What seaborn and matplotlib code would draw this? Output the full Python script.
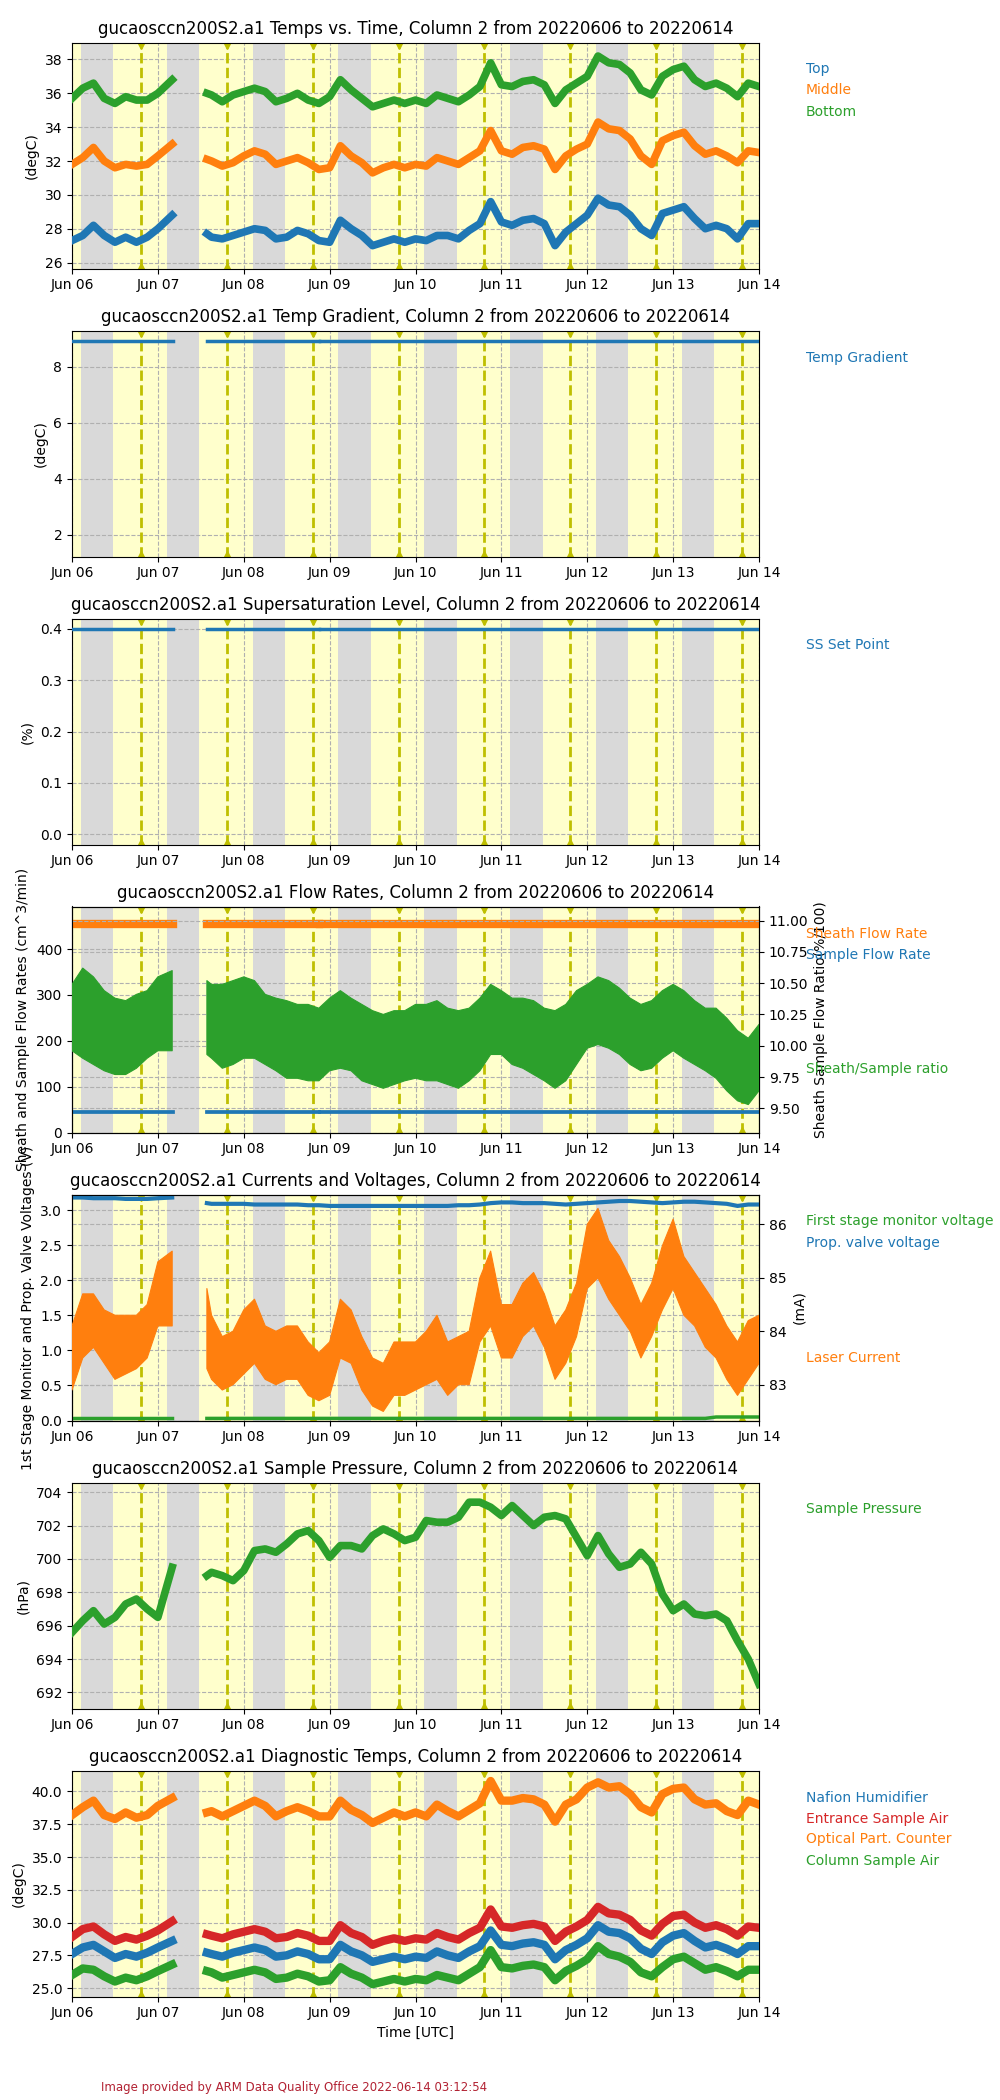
import numpy as np
import pandas as pd
import matplotlib
matplotlib.use("Agg")
import matplotlib.pyplot as plt
import matplotlib.dates as mdates
import seaborn as sns

nan = np.nan

# 3-hourly samples (hours after 2022-06-06 00:00 UTC), data gap on Jun 07
hours = list(range(0, 27, 3)) + [28, 30, 33, 37.7] + list(range(39, 193, 3))

# Temps vs. Time
temp_top = [
    27.3, 27.6, 28.2, 27.6, 27.2, 27.5, 27.2, 27.5,
    28.0, 28.8, nan, nan, 27.7, 27.5, 27.4, 27.6,
    27.8, 28.0, 27.9, 27.4, 27.5, 27.9, 27.7, 27.3,
    27.2, 28.5, 28.0, 27.6, 27.0, 27.2, 27.4, 27.2,
    27.4, 27.3, 27.6, 27.6, 27.4, 27.9, 28.3, 29.6,
    28.4, 28.2, 28.5, 28.6, 28.3, 27.0, 27.8, 28.3,
    28.8, 29.8, 29.4, 29.3, 28.8, 28.0, 27.6, 28.9,
    29.1, 29.3, 28.6, 28.0, 28.2, 28.0, 27.4, 28.3,
    28.3,
]
temp_middle = [
    31.8, 32.2, 32.8, 32.0, 31.6, 31.8, 31.7, 31.8,
    32.3, 33.0, nan, nan, 32.1, 32.0, 31.7, 31.9,
    32.3, 32.6, 32.4, 31.8, 32.0, 32.2, 31.9, 31.5,
    31.6, 32.9, 32.3, 31.9, 31.3, 31.6, 31.8, 31.6,
    31.8, 31.7, 32.2, 32.0, 31.8, 32.2, 32.6, 33.8,
    32.6, 32.4, 32.8, 32.9, 32.7, 31.5, 32.3, 32.7,
    33.0, 34.3, 33.9, 33.8, 33.3, 32.3, 31.8, 33.2,
    33.5, 33.7, 32.9, 32.4, 32.6, 32.3, 31.9, 32.6,
    32.5,
]
temp_bottom = [
    35.7, 36.3, 36.6, 35.7, 35.4, 35.8, 35.6, 35.6,
    36.0, 36.8, nan, nan, 36.0, 35.9, 35.5, 35.9,
    36.1, 36.3, 36.1, 35.5, 35.7, 36.0, 35.6, 35.4,
    35.8, 36.8, 36.2, 35.7, 35.2, 35.4, 35.6, 35.4,
    35.6, 35.4, 35.9, 35.7, 35.5, 35.9, 36.4, 37.8,
    36.5, 36.4, 36.7, 36.8, 36.5, 35.4, 36.2, 36.6,
    37.0, 38.2, 37.8, 37.7, 37.2, 36.2, 35.9, 37.0,
    37.4, 37.6, 36.8, 36.4, 36.6, 36.3, 35.8, 36.6,
    36.4,
]

# Flow rates: sheath/sample ratio band (right axis)
ratio_upper = [
    10.49, 10.62, 10.55, 10.44, 10.38, 10.36, 10.41, 10.44,
    10.55, 10.60, nan, nan, 10.52, 10.49, 10.49, 10.52,
    10.55, 10.52, 10.41, 10.38, 10.36, 10.33, 10.33, 10.30,
    10.38, 10.44, 10.38, 10.33, 10.28, 10.25, 10.28, 10.28,
    10.33, 10.33, 10.36, 10.30, 10.28, 10.30, 10.38, 10.49,
    10.44, 10.38, 10.38, 10.36, 10.30, 10.28, 10.33, 10.44,
    10.49, 10.55, 10.52, 10.46, 10.38, 10.33, 10.36, 10.44,
    10.49, 10.44, 10.36, 10.30, 10.30, 10.22, 10.12, 10.06,
    10.17,
]
ratio_lower = [
    9.96, 9.90, 9.85, 9.80, 9.77, 9.77, 9.82, 9.90,
    9.96, 9.96, nan, nan, 9.93, 9.90, 9.82, 9.85,
    9.90, 9.90, 9.85, 9.80, 9.74, 9.74, 9.72, 9.72,
    9.80, 9.82, 9.80, 9.72, 9.69, 9.66, 9.69, 9.72,
    9.74, 9.72, 9.72, 9.69, 9.66, 9.72, 9.80, 9.93,
    9.93, 9.85, 9.82, 9.77, 9.72, 9.66, 9.72, 9.85,
    9.98, 10.01, 9.98, 9.93, 9.85, 9.80, 9.82, 9.90,
    9.96, 9.90, 9.85, 9.80, 9.74, 9.64, 9.56, 9.53,
    9.64,
]

# Currents and voltages
prop_valve = [
    3.18, 3.18, 3.17, 3.17, 3.17, 3.16, 3.16, 3.16,
    3.17, 3.18, nan, nan, 3.10, 3.09, 3.09, 3.09,
    3.09, 3.08, 3.08, 3.08, 3.08, 3.08, 3.07, 3.07,
    3.06, 3.06, 3.06, 3.06, 3.06, 3.06, 3.06, 3.06,
    3.06, 3.06, 3.06, 3.06, 3.07, 3.07, 3.08, 3.10,
    3.11, 3.11, 3.10, 3.10, 3.10, 3.09, 3.08, 3.09,
    3.10, 3.11, 3.12, 3.13, 3.13, 3.12, 3.11, 3.10,
    3.11, 3.12, 3.12, 3.11, 3.10, 3.09, 3.06, 3.08,
    3.08,
]
first_stage = [
    0.03, 0.03, 0.03, 0.03, 0.03, 0.03, 0.03, 0.03,
    0.03, 0.03, nan, nan, 0.03, 0.03, 0.03, 0.03,
    0.03, 0.03, 0.03, 0.03, 0.03, 0.03, 0.03, 0.03,
    0.03, 0.03, 0.03, 0.03, 0.03, 0.03, 0.03, 0.03,
    0.03, 0.03, 0.03, 0.03, 0.03, 0.03, 0.03, 0.03,
    0.03, 0.03, 0.03, 0.03, 0.03, 0.03, 0.03, 0.03,
    0.03, 0.03, 0.03, 0.03, 0.03, 0.03, 0.03, 0.03,
    0.03, 0.03, 0.03, 0.03, 0.05, 0.05, 0.05, 0.05,
    0.05,
]
laser_upper = [
    84.1, 84.7, 84.7, 84.4, 84.3, 84.3, 84.3, 84.5,
    85.3, 85.5, nan, nan, 84.8, 84.3, 83.9, 84.0,
    84.4, 84.6, 84.1, 84.0, 84.1, 84.1, 83.8, 83.6,
    83.8, 84.6, 84.4, 83.9, 83.5, 83.4, 83.8, 83.8,
    83.8, 84.0, 84.3, 83.8, 83.9, 84.0, 85.0, 85.5,
    84.5, 84.5, 84.9, 85.1, 84.7, 84.1, 84.4, 84.9,
    86.0, 86.3, 85.7, 85.4, 85.0, 84.5, 84.9, 85.6,
    86.1, 85.4, 85.1, 84.8, 84.5, 84.1, 83.8, 84.2,
    84.3,
]
laser_lower = [
    82.9, 83.5, 83.7, 83.4, 83.1, 83.2, 83.3, 83.5,
    84.1, 84.1, nan, nan, 83.3, 83.1, 82.9, 83.0,
    83.2, 83.4, 83.1, 83.0, 83.1, 83.1, 82.8, 82.7,
    82.8, 83.5, 83.4, 82.9, 82.6, 82.5, 82.8, 82.8,
    82.9, 83.0, 83.1, 82.8, 83.0, 83.0, 83.8, 84.1,
    83.5, 83.5, 83.9, 84.1, 83.7, 83.1, 83.4, 83.9,
    84.8, 85.0, 84.6, 84.3, 84.0, 83.5, 83.9, 84.4,
    84.8, 84.3, 84.1, 83.7, 83.5, 83.1, 82.8, 83.1,
    83.4,
]

# Sample pressure
pressure = [
    695.6, 696.3, 696.9, 696.1, 696.5, 697.3, 697.6, 697.0,
    696.5, 699.5, nan, nan, 699.0, 699.2, 699.0, 698.7,
    699.3, 700.5, 700.6, 700.4, 700.9, 701.5, 701.7, 701.1,
    700.1, 700.8, 700.8, 700.6, 701.4, 701.8, 701.5, 701.1,
    701.3, 702.3, 702.2, 702.2, 702.5, 703.4, 703.4, 703.1,
    702.6, 703.2, 702.6, 702.0, 702.5, 702.6, 702.4, 701.3,
    700.2, 701.4, 700.3, 699.5, 699.7, 700.4, 699.7, 697.9,
    696.9, 697.3, 696.7, 696.6, 696.7, 696.3, 695.1, 694.0,
    692.5,
]

# Diagnostic temps
nafion = [
    27.6, 28.1, 28.3, 27.8, 27.3, 27.6, 27.4, 27.7,
    28.1, 28.6, nan, nan, 27.7, 27.6, 27.4, 27.7,
    27.9, 28.1, 27.9, 27.4, 27.5, 27.8, 27.6, 27.2,
    27.2, 28.3, 27.8, 27.5, 27.0, 27.2, 27.4, 27.2,
    27.4, 27.3, 27.8, 27.5, 27.3, 27.8, 28.2, 29.4,
    28.3, 28.2, 28.4, 28.5, 28.3, 27.2, 27.9, 28.3,
    28.8, 29.8, 29.3, 29.2, 28.8, 28.0, 27.6, 28.5,
    29.0, 29.2, 28.6, 28.1, 28.3, 28.0, 27.6, 28.2,
    28.2,
]
entrance = [
    28.9, 29.5, 29.7, 29.1, 28.6, 28.9, 28.7, 29.0,
    29.4, 30.1, nan, nan, 29.1, 29.0, 28.8, 29.1,
    29.3, 29.5, 29.3, 28.8, 28.9, 29.2, 29.0, 28.6,
    28.6, 29.8, 29.2, 28.9, 28.3, 28.6, 28.8, 28.6,
    28.8, 28.7, 29.2, 28.9, 28.7, 29.2, 29.6, 31.0,
    29.7, 29.6, 29.8, 29.9, 29.7, 28.6, 29.3, 29.7,
    30.2, 31.2, 30.7, 30.6, 30.2, 29.4, 29.0, 29.9,
    30.5, 30.6, 30.0, 29.6, 29.8, 29.5, 29.0, 29.7,
    29.6,
]
opc = [
    38.2, 38.8, 39.3, 38.2, 37.9, 38.4, 38.0, 38.2,
    38.9, 39.5, nan, nan, 38.4, 38.5, 38.1, 38.5,
    38.9, 39.3, 38.9, 38.1, 38.5, 38.8, 38.5, 38.1,
    38.1, 39.3, 38.6, 38.2, 37.6, 38.0, 38.4, 38.1,
    38.4, 38.1, 39.0, 38.5, 38.1, 38.6, 39.1, 40.8,
    39.3, 39.3, 39.5, 39.4, 39.0, 37.7, 39.0, 39.4,
    40.3, 40.7, 40.3, 40.4, 39.8, 38.8, 38.4, 39.8,
    40.2, 40.3, 39.4, 39.0, 39.1, 38.5, 38.2, 39.3,
    39.0,
]
column_air = [
    26.0, 26.5, 26.4, 25.9, 25.5, 25.8, 25.6, 25.9,
    26.3, 26.8, nan, nan, 26.3, 26.2, 25.8, 26.0,
    26.2, 26.4, 26.2, 25.7, 25.8, 26.1, 25.9, 25.5,
    25.6, 26.6, 26.1, 25.8, 25.3, 25.5, 25.7, 25.5,
    25.7, 25.6, 26.0, 25.8, 25.6, 26.1, 26.6, 27.9,
    26.6, 26.5, 26.7, 26.8, 26.6, 25.6, 26.3, 26.7,
    27.2, 28.2, 27.6, 27.4, 27.0, 26.2, 25.9, 26.6,
    27.2, 27.4, 26.9, 26.4, 26.6, 26.3, 25.9, 26.4,
    26.4,
]

# near-constant set points, drawn as segments between data gaps
seg_times = ["2022-06-06 00:00", "2022-06-07 04:15", "2022-06-07 13:40",
             "2022-06-08 21:05", "2022-06-08 21:25", "2022-06-14 00:00"]
seg_units = [0, 0, 1, 1, 2, 2]
temp_gradient = [8.93, 8.93, 8.93, 8.93, 8.93, 8.93]
ss_set_point = [0.40, 0.40, 0.40, 0.40, 0.40, 0.40]
sheath_flow = [455, 455, 455, 455, 455, 455]
sample_flow = [44, 44, 44, 44, 44, 44]

# sunset / sunrise / solar noon (UTC)
sunset = [f"2022-06-{d:02d} 02:28" for d in range(6, 14)]
sunrise = [f"2022-06-{d:02d} 11:30" for d in range(6, 14)]
noon = [f"2022-06-{d:02d} 19:15" for d in range(6, 14)]

blue, orange, green, red = "#1f77b4", "#ff7f0e", "#2ca02c", "#d62728"
title_tail = ", Column 2 from 20220606 to 20220614"

times = pd.Timestamp("2022-06-06") + pd.to_timedelta(hours, unit="h")
df = pd.DataFrame({
    "time": times, "segment": [0 if h < 30 else 1 for h in hours],
    "top": temp_top, "middle": temp_middle, "bottom": temp_bottom,
    "prop": prop_valve, "first": first_stage, "pressure": pressure,
    "nafion": nafion, "entrance": entrance, "opc": opc, "column": column_air,
})
seg = pd.DataFrame({
    "time": pd.to_datetime(seg_times), "segment": seg_units,
    "grad": temp_gradient, "ss": ss_set_point,
    "sheath": sheath_flow, "sample": sample_flow,
})

fig = plt.figure(figsize=(10, 21), dpi=100)


def make_ax(i):
    top = 42.5 + 288 * i
    return fig.add_axes([0.072, 1 - (top + 226) / 2100, 0.687, 226 / 2100])


def decorate(ax, title, ylabel, ylim, yticks):
    ax.set_facecolor("#ffffcc")
    for a, b in zip(sunset, sunrise):
        ax.axvspan(pd.Timestamp(a), pd.Timestamp(b), color="#d9d9d9", lw=0, zorder=0)
    for t in noon:
        x = mdates.date2num(pd.Timestamp(t))
        ax.axvline(x, color="y", ls="--", lw=2, zorder=2)
        ax.plot([x], [1], marker="v", color="y", ms=8, transform=ax.get_xaxis_transform())
        ax.plot([x], [0], marker="^", color="y", ms=8, transform=ax.get_xaxis_transform())
    ax.set_xlim(pd.Timestamp("2022-06-06"), pd.Timestamp("2022-06-14"))
    ax.xaxis.set_major_locator(mdates.DayLocator())
    ax.xaxis.set_major_formatter(mdates.DateFormatter("%b %d"))
    ax.set_ylim(*ylim)
    ax.set_yticks(yticks)
    ax.grid(True, ls="--", color="#b0b0b0", lw=0.8)
    ax.set_title(title + title_tail, fontsize=12)
    ax.set_ylabel(ylabel)
    ax.set_xlabel("")


def line(ax, data, col, color, lw):
    sns.lineplot(data=data, x="time", y=col, units="segment", estimator=None,
                 color=color, linewidth=lw, ax=ax, legend=False, zorder=3)


def labels(i, names, colors, offset=27):
    top = 42.5 + 288 * i
    for k, (name, c) in enumerate(zip(names, colors)):
        fig.text(0.806, 1 - (top + offset + 21 * k) / 2100, name, color=c,
                 fontsize=10, va="center")


# 1 temps
ax = make_ax(0)
line(ax, df, "top", blue, 5.5)
line(ax, df, "middle", orange, 5.5)
line(ax, df, "bottom", green, 5.5)
decorate(ax, "gucaosccn200S2.a1 Temps vs. Time", "(degC)", (25.65, 39.0), range(26, 39, 2))
labels(0, ["Top", "Middle", "Bottom"], [blue, orange, green])

# 2 temp gradient
ax = make_ax(1)
line(ax, seg, "grad", blue, 2.5)
decorate(ax, "gucaosccn200S2.a1 Temp Gradient", "(degC)", (1.23, 9.30), [2, 4, 6, 8])
labels(1, ["Temp Gradient"], [blue])

# 3 supersaturation
ax = make_ax(2)
line(ax, seg, "ss", blue, 2.5)
decorate(ax, "gucaosccn200S2.a1 Supersaturation Level", "(%)", (-0.02, 0.42),
         [0.0, 0.1, 0.2, 0.3, 0.4])
labels(2, ["SS Set Point"], [blue])

# 4 flow rates
ax = make_ax(3)
line(ax, seg, "sheath", orange, 6)
line(ax, seg, "sample", blue, 2.7)
decorate(ax, "gucaosccn200S2.a1 Flow Rates", "Sheath and Sample Flow Rates (cm^3/min)",
         (0, 493), range(0, 401, 100))
ax2 = ax.twinx()
ax2.fill_between(df["time"], ratio_lower, ratio_upper, color=green, lw=0.8, zorder=3)
ax2.set_ylim(9.307, 11.112)
ax2.set_yticks([9.5, 9.75, 10.0, 10.25, 10.5, 10.75, 11.0])
ax2.yaxis.set_major_formatter(plt.FormatStrFormatter("%.2f"))
ax2.grid(True, ls="--", color="#b0b0b0", lw=0.8)
ax2.set_ylabel("Sheath Sample Flow Ratio(%/100)")
labels(3, ["Sheath Flow Rate", "Sample Flow Rate"], [orange, blue])
labels(3, ["Sheath/Sample ratio"], [green], offset=162)

# 5 currents and voltages
ax = make_ax(4)
line(ax, df, "prop", blue, 3)
line(ax, df, "first", green, 2.5)
decorate(ax, "gucaosccn200S2.a1 Currents and Voltages",
         "1st Stage Monitor and Prop. Valve Voltages (V)", (0, 3.223),
         [0.0, 0.5, 1.0, 1.5, 2.0, 2.5, 3.0])
ax2 = ax.twinx()
ax2.fill_between(df["time"], laser_lower, laser_upper, color=orange, lw=0.8, zorder=3)
ax2.set_ylim(82.33, 86.56)
ax2.set_yticks([83, 84, 85, 86])
ax2.grid(True, ls="--", color="#b0b0b0", lw=0.8)
ax2.set_ylabel("(mA)")
labels(4, ["First stage monitor voltage", "Prop. valve voltage"], [green, blue])
labels(4, ["Laser Current"], [orange], offset=163)

# 6 sample pressure
ax = make_ax(5)
line(ax, df, "pressure", green, 5.5)
decorate(ax, "gucaosccn200S2.a1 Sample Pressure", "(hPa)", (691.04, 704.58),
         range(692, 705, 2))
labels(5, ["Sample Pressure"], [green])

# 7 diagnostic temps
ax = make_ax(6)
line(ax, df, "nafion", blue, 6)
line(ax, df, "entrance", red, 6)
line(ax, df, "opc", orange, 6)
line(ax, df, "column", green, 6)
decorate(ax, "gucaosccn200S2.a1 Diagnostic Temps", "(degC)", (24.36, 41.6),
         [25.0, 27.5, 30.0, 32.5, 35.0, 37.5, 40.0])
ax.yaxis.set_major_formatter(plt.FormatStrFormatter("%.1f"))
ax.set_xlabel("Time [UTC]")
labels(6, ["Nafion Humidifier", "Entrance Sample Air", "Optical Part. Counter",
           "Column Sample Air"], [blue, red, orange, green])

fig.text(0.101, 1 - 2088 / 2100, "Image provided by ARM Data Quality Office 2022-06-14 03:12:54",
         color="#b22233", fontsize=8.5, va="center")

fig.savefig("out.png", dpi=100)
